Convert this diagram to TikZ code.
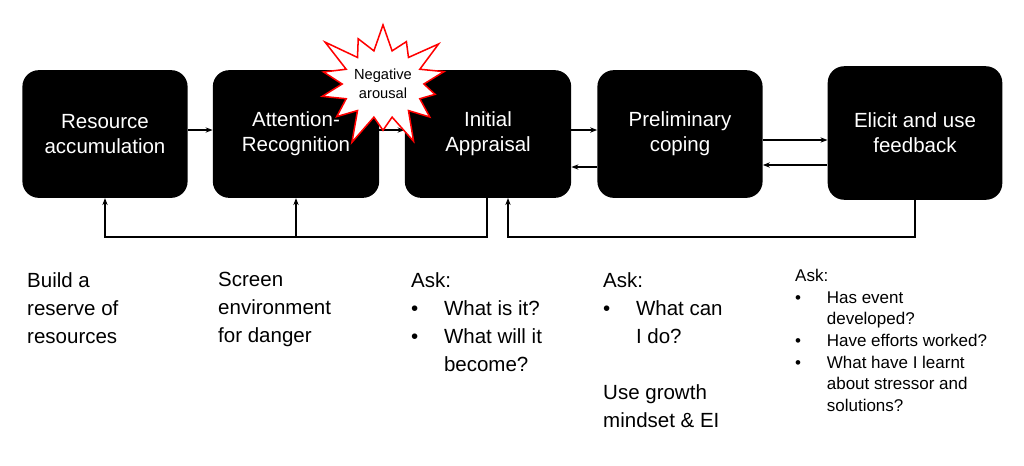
\documentclass[tikz,border=0pt]{standalone}
\usepackage{fontspec}
\setmainfont{Liberation Sans}
\usetikzlibrary{shapes.symbols,arrows.meta}
\newcommand{\bul}[1]{\makebox[#1][l]{\textbullet}}
\tikzset{
  stage/.style={fill=black,rounded corners=14pt,text=white,align=center,
    font=\fontsize{17.5}{21.5}\selectfont,inner sep=0pt},
  link/.style={line width=1.1pt,-{Stealth[length=6pt]}},
  note/.style={anchor=north west,align=left,font=\fontsize{17.5}{24}\selectfont,inner sep=0pt},
  smallnote/.style={anchor=north west,align=left,font=\fontsize{14.5}{18.5}\selectfont,inner sep=0pt}
}
\begin{document}
\begin{tikzpicture}[x=0.03cm,y=-0.03cm]
  \useasboundingbox (0,0) rectangle (1024,465);
  % stages
  \node[stage,minimum width=141pt,minimum height=109pt] (res) at (105,134) {Resource\\accumulation};
  \node[stage,minimum width=142pt,minimum height=109pt] (att) at (296,134) {Attention-\\Recognition};
  \node[stage,minimum width=142pt,minimum height=109pt] (app) at (488,134) {Initial\\Appraisal};
  \node[stage,minimum width=141pt,minimum height=109pt] (cop) at (680,134) {Preliminary\\coping};
  \node[stage,minimum width=149pt,minimum height=114pt] (fb) at (915,133) {Elicit and use\\feedback};
  % forward and back links
  \draw[link] (res.east |- 0,130) -- (att.west |- 0,130);
  \draw[link] (att.east |- 0,130) -- (app.west |- 0,130);
  \draw[link] (app.east |- 0,130) -- (cop.west |- 0,130);
  \draw[link] (cop.west |- 0,167) -- (app.east |- 0,167);
  \draw[link] (cop.east |- 0,140) -- (fb.west |- 0,140);
  \draw[link] (fb.west |- 0,165) -- (cop.east |- 0,165);
  % feedback loops
  \coordinate (loopA) at (487,237);
  \coordinate (loopB) at (915,237);
  \draw[link] (app.south -| loopA) -- (loopA) -| (res.south);
  \draw[link] (att.south |- loopA) -- (att.south);
  \draw[link] (fb.south) -- (loopB) -| (508,198);
  % arousal burst
  \node[starburst,starburst points=14,starburst point height=30pt,draw=red,line width=1.3pt,fill=white,
    minimum width=120pt,minimum height=118pt,inner sep=0pt,align=center,
    font=\fontsize{12.5}{16}\selectfont] (burst) at (383,84) {Negative\\arousal};
  % notes
  \node[note] (n1) at (27,272) {Build a\\reserve of\\resources};
  \node[note] (n2) at (218,272) {Screen\\environment\\for danger};
  \node[note] (n3) at (411,272) {Ask:\\\bul{28pt}What is it?\\\bul{28pt}What will it\\\hspace*{28pt}become?};
  \node[note] (n4) at (603,272) {Ask:\\\bul{28pt}What can\\\hspace*{28pt}I do?\\[24pt]Use growth\\mindset \& EI};
  \node[smallnote] (n5) at (795,269) {Ask:\\\bul{27pt}Has event\\\hspace*{27pt}developed?\\\bul{27pt}Have efforts worked?\\\bul{27pt}What have I learnt\\\hspace*{27pt}about stressor and\\\hspace*{27pt}solutions?};
\end{tikzpicture}
\end{document}
